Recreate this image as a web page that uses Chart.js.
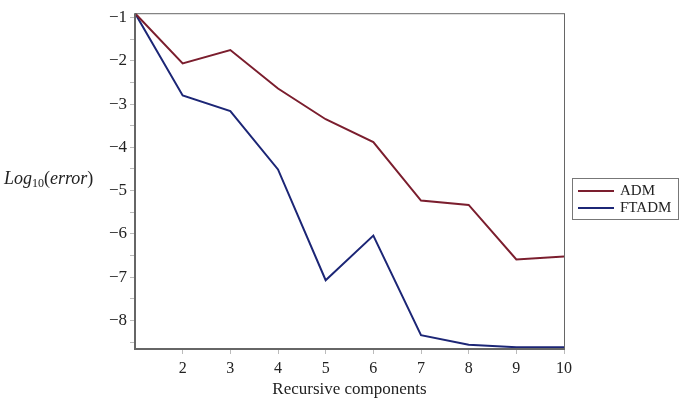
<!DOCTYPE html>
<html>
<head>
<meta charset="utf-8">
<script src="https://cdn.jsdelivr.net/npm/chart.js@4"></script>
<style>
  html, body { margin: 0; padding: 0; background: #fff; }
  #wrap { position: relative; width: 685px; height: 400px; }
  #yTitle {
    position: absolute; left: 4px; top: 168px;
    font-family: "Liberation Serif", serif; font-size: 18px; color: #222;
    white-space: nowrap;
  }
  #yTitle sub { font-size: 12px; font-style: normal; vertical-align: -3px; }
  #legend {
    position: absolute; left: 572px; top: 178px; width: 105px;
    border: 1px solid #777; padding: 3px 0 3px 0;
    font-family: "Liberation Serif", serif; font-size: 15px; color: #222;
  }
  .item { display: flex; align-items: center; height: 17px; }
  .swatch { display: inline-block; width: 36px; height: 2px; margin: 0 6px 0 5px; }
</style>
</head>
<body>
<div id="wrap">
  <canvas id="chart" width="685" height="400"></canvas>
  <div id="yTitle"><i>Log</i><sub>10</sub>(<i>error</i>)</div>
  <div id="legend"></div>
</div>
<script>
// Data
const components = [1, 2, 3, 4, 5, 6, 7, 8, 9, 10];
const admError = [-0.9, -2.06, -1.75, -2.64, -3.35, -3.88, -5.23, -5.33, -6.59, -6.52];
const ftadmError = [-0.9, -2.80, -3.16, -4.51, -7.07, -6.04, -8.34, -8.56, -8.62, -8.62];
const yTickLabels = [-8, -7, -6, -5, -4, -3, -2, -1];
const xTickLabels = [2, 3, 4, 5, 6, 7, 8, 9, 10];

const seriesNames = ['ADM', 'FTADM'];
const seriesColors = ['#7b1e2e', '#1c2676'];

const serif = '"Liberation Serif", "Times New Roman", serif';

// box round the plot area
const frame = {
    id: 'frame',
    afterDraw(chart) {
        const { ctx, chartArea: a } = chart;
        ctx.save();
        ctx.strokeStyle = '#666';
        ctx.lineWidth = 1;
        ctx.strokeRect(a.left + 0.5, a.top + 0.5, a.right - a.left, a.bottom - a.top);
        ctx.lineWidth = 2;
        ctx.beginPath();
        ctx.moveTo(a.left, a.top);
        ctx.lineTo(a.left, a.bottom);
        ctx.lineTo(a.right, a.bottom);
        ctx.stroke();
        ctx.restore();
    }
};

const minus = v => String(v).replace('-', '\u2212');

new Chart(document.getElementById('chart').getContext('2d'), {
    type: 'line',
    data: {
        datasets: [
            {
                label: seriesNames[0],
                data: components.map((c, i) => ({ x: c, y: admError[i] })),
                borderColor: seriesColors[0],
                borderWidth: 2,
                pointRadius: 0,
                tension: 0
            },
            {
                label: seriesNames[1],
                data: components.map((c, i) => ({ x: c, y: ftadmError[i] })),
                borderColor: seriesColors[1],
                borderWidth: 2,
                pointRadius: 0,
                tension: 0
            }
        ]
    },
    options: {
        responsive: false,
        animation: false,
        layout: { padding: { top: 4, right: 121, bottom: 0, left: 0 } },
        plugins: {
            legend: { display: false },
            tooltip: { enabled: false }
        },
        scales: {
            x: {
                type: 'linear',
                min: 1,
                max: 10,
                afterBuildTicks: scale => {
                    scale.ticks = xTickLabels.map(v => ({ value: v }));
                },
                afterFit: scale => { scale.height = 51; },
                grid: { drawOnChartArea: false, color: '#bbb', tickLength: 5 },
                border: { display: false },
                ticks: {
                    color: '#222',
                    font: { family: serif, size: 16 },
                    padding: 5,
                    autoSkip: false,
                    maxRotation: 0
                },
                title: {
                    display: true,
                    text: 'Recursive components',
                    color: '#222',
                    font: { family: serif, size: 17 },
                    padding: { top: 2, bottom: 0 }
                }
            },
            y: {
                type: 'linear',
                min: -8.66,
                max: -0.9,
                afterBuildTicks: scale => {
                    const t = [];
                    yTickLabels.forEach(v => {
                        t.push({ value: v - 0.5 });
                        t.push({ value: v });
                    });
                    scale.ticks = t;
                },
                afterFit: scale => { scale.width = 135; },
                grid: { drawOnChartArea: false, color: '#bbb', tickLength: 5 },
                border: { display: false },
                ticks: {
                    color: '#222',
                    font: { family: serif, size: 17 },
                    padding: 3,
                    autoSkip: false,
                    callback: v => Number.isInteger(v) ? minus(v) : ''
                }
            }
        }
    },
    plugins: [frame]
});

// legend box
const legend = document.getElementById('legend');
seriesNames.forEach((name, i) => {
    const row = document.createElement('div');
    row.className = 'item';
    row.innerHTML = `<span class="swatch" style="background:${seriesColors[i]}"></span>${name}`;
    legend.appendChild(row);
});
</script>
</body>
</html>
